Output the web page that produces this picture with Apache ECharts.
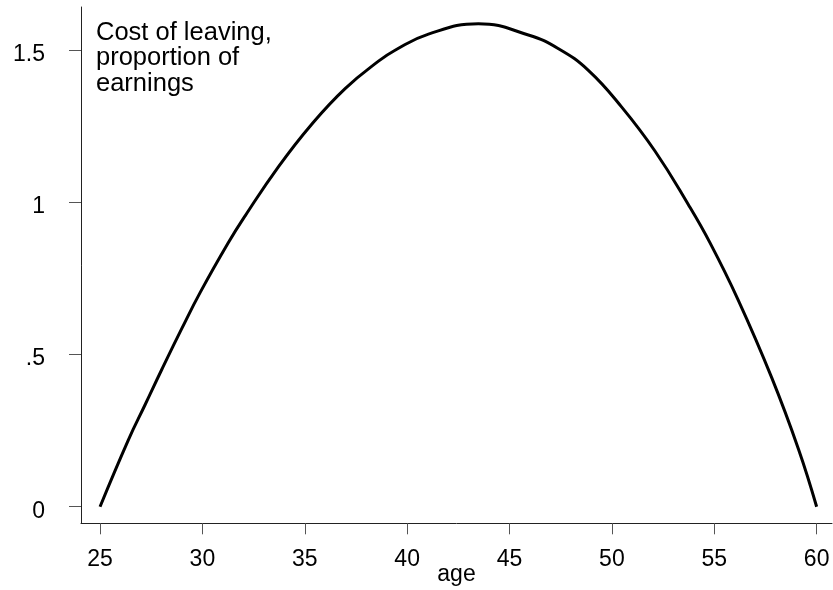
<!DOCTYPE html>
<html>
<head>
<meta charset="utf-8">
<script src="https://cdn.jsdelivr.net/npm/echarts@6/dist/echarts.min.js"></script>
<style>
html,body{margin:0;padding:0;background:#fff;}
#chart{width:833px;height:590px;}
</style>
</head>
<body>
<div id="chart"></div>
<script>
// Values
const ages  = [25, 26.38, 27.2, 28.01, 28.99, 29.9, 31.27, 32.08, 33.71, 35.34, 36.97, 38.6, 39.41, 41.04, 43.48, 45.92, 47.39, 48.85, 50.48, 52.11, 53.73, 54.8, 56.17, 57.8, 59.11, 60];
const costs = [0, 0.219, 0.335, 0.45, 0.585, 0.705, 0.868, 0.955, 1.117, 1.257, 1.374, 1.464, 1.500, 1.553, 1.587, 1.550, 1.505, 1.434, 1.313, 1.168, 0.993, 0.866, 0.679, 0.425, 0.19, 0];
const xTicks = [25, 30, 35, 40, 45, 50, 55, 60];
const yTicks = [0, 0.5, 1, 1.5];
const yTickLabels = ['0', '.5', '1', '1.5'];
const titleLines = ['Cost of leaving,', 'proportion of', 'earnings'];
const xName = 'age';

const FONT = '"Liberation Sans", Arial, Helvetica, sans-serif';
const chart = echarts.init(document.getElementById('chart'), null, {renderer: 'canvas'});
chart.setOption({
  animation: false,
  backgroundColor: '#fff',
  grid: {left: 81, right: 1, top: 7, bottom: 66.7, containLabel: false, outerBoundsMode: 'none'},
  xAxis: {
    type: 'value',
    min: 24.07, max: 60.75,
    axisLine: {show: true, onZero: false, lineStyle: {color: '#222', width: 1}},
    axisTick: {show: true, customValues: xTicks, length: 11, lineStyle: {color: '#555', width: 1}},
    axisLabel: {show: true, customValues: xTicks, fontSize: 23, fontFamily: FONT, color: '#000', margin: 25},
    splitLine: {show: false},
    name: xName, nameLocation: 'middle', nameGap: 40, nameMoveOverlap: false,
    nameTextStyle: {fontSize: 23, fontFamily: FONT, color: '#000'}
  },
  yAxis: {
    type: 'value',
    min: -0.0545, max: 1.642,
    axisLine: {show: true, onZero: false, lineStyle: {color: '#222', width: 1}},
    axisTick: {show: true, customValues: yTicks, length: 12, lineStyle: {color: '#555', width: 1}},
    axisLabel: {
      show: true, customValues: yTicks, fontSize: 23, fontFamily: FONT, color: '#000', margin: 36,
      formatter: function (v) {
        const i = yTicks.findIndex(t => Math.abs(t - v) < 1e-9);
        return i >= 0 ? '{a|' + yTickLabels[i] + '}' : '';
      },
      rich: {a: {fontSize: 23, fontFamily: FONT, color: '#000', padding: [9, 0, 0, 0]}}
    },
    splitLine: {show: false}
  },
  graphic: [{
    type: 'text', left: 96, top: 20, silent: true,
    style: {text: titleLines.join('\n'), font: '25.5px ' + FONT, fill: '#000', lineHeight: 25.3}
  }],
  series: [{
    type: 'line',
    data: ages.map((a, i) => [a, costs[i]]),
    showSymbol: false,
    smooth: 0.45,
    lineStyle: {color: '#000', width: 3},
    itemStyle: {color: '#000'}
  }]
});
</script>
</body>
</html>
